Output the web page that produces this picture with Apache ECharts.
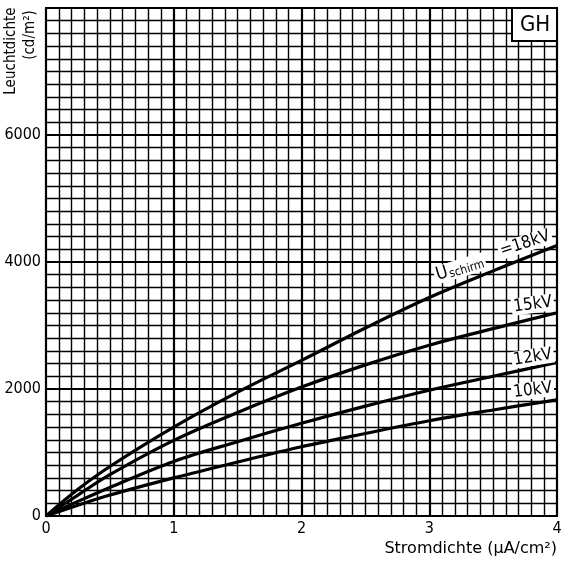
<!DOCTYPE html>
<html>
<head>
<meta charset="utf-8">
<title>Leuchtdichte GH</title>
<script src="https://cdn.jsdelivr.net/npm/echarts@6/dist/echarts.min.js"></script>
<style>
  html, body { margin: 0; padding: 0; background: #fff; }
  #chart { width: 565px; height: 561px; }
</style>
</head>
<body>
<div id="chart"></div>
<script>
// Stromdichte in µA/cm²
var stromdichte = [0, 0.25, 0.5, 1, 1.5, 2, 2.5, 3, 3.5, 4];
// Leuchtdichte in cd/m² je Schirmspannung
var kv18 = [0, 420, 780, 1400, 1950, 2450, 2960, 3440, 3860, 4260];
var kv15 = [0, 330, 650, 1190, 1630, 2030, 2380, 2690, 2950, 3200];
var kv12 = [0, 230, 450, 860, 1170, 1460, 1730, 1980, 2200, 2420];
var kv10 = [0, 170, 330, 600, 850, 1090, 1300, 1500, 1670, 1830];

var font = "'DejaVu Sans Condensed', 'DejaVu Sans', sans-serif";

function pairs(ys) {
  return stromdichte.map(function (x, i) { return [x, ys[i]]; });
}

function kurve(name, ys) {
  return {
    name: name,
    type: "line",
    data: pairs(ys),
    smooth: 0.35,
    showSymbol: false,
    silent: true,
    lineStyle: { color: "#000", width: 3.2 },
    z: 5
  };
}

var myChart = echarts.init(document.getElementById("chart"));

var option = {
  animation: false,
  backgroundColor: "#fff",
  grid: {
    left: 46, right: 8, top: 8, bottom: 45,
    show: true,
    borderColor: "#000",
    borderWidth: 2
  },
  xAxis: {
    type: "value",
    min: 0, max: 4, interval: 1,
    axisLine: { show: false },
    axisTick: { show: false },
    axisLabel: { color: "#000", fontSize: 16, fontFamily: font, margin: 5 },
    splitLine: { lineStyle: { color: "#000", width: 2.2 } },
    minorTick: { show: false, splitNumber: 10 },
    minorSplitLine: { show: true, lineStyle: { color: "#000", width: 1.4 } }
  },
  yAxis: {
    type: "value",
    min: 0, max: 8000, interval: 2000,
    axisLine: { show: false },
    axisTick: { show: false },
    axisLabel: {
      color: "#000", fontSize: 16, fontFamily: font, margin: 5,
      formatter: function (v) { return v === 8000 ? "" : String(v); }
    },
    splitLine: { lineStyle: { color: "#000", width: 2.2 } },
    minorTick: { show: false, splitNumber: 10 },
    minorSplitLine: { show: true, lineStyle: { color: "#000", width: 1.4 } }
  },
  series: [
    kurve("18kV", kv18),
    kurve("15kV", kv15),
    kurve("12kV", kv12),
    kurve("10kV", kv10)
  ]
};

myChart.setOption(option);

// Beschriftungen an den Kurven, Lage aus Datenkoordinaten
function px(x, y) { return myChart.convertToPixel({ gridIndex: 0 }, [x, y]); }
function deg(d) { return d * Math.PI / 180; }

function kurvenText(text, x, y, rot, rich) {
  var p = px(x, y);
  return {
    type: "text",
    x: p[0], y: p[1],
    rotation: deg(rot),
    z: 10,
    style: {
      text: text,
      rich: rich,
      font: "17px " + font,
      fill: "#000",
      align: "center",
      verticalAlign: "middle",
      backgroundColor: "#fff",
      padding: [0, 2, 0, 2]
    }
  };
}

var gp = myChart.getModel().getComponent("grid").coordinateSystem.getRect();

myChart.setOption({
  graphic: [
    kurvenText("{u|U}{s|schirm}", 3.24, 3900, 17, {
      u: { fontSize: 18, fontFamily: font, verticalAlign: "bottom" },
      s: { fontSize: 12, fontFamily: font, verticalAlign: "bottom", padding: [0, 0, 0, 1] }
    }),
    kurvenText("=18kV", 3.75, 4290, 18),
    kurvenText("15kV", 3.81, 3330, 8),
    kurvenText("12kV", 3.81, 2500, 9),
    kurvenText("10kV", 3.81, 1980, 7),
    // Kennzeichen oben rechts
    {
      type: "rect",
      z: 10,
      shape: { x: gp.x + gp.width - 45, y: gp.y, width: 45, height: 33 },
      style: { fill: "#fff", stroke: "#000", lineWidth: 2 }
    },
    {
      type: "text",
      z: 11,
      x: gp.x + gp.width - 22, y: gp.y + 17,
      style: { text: "GH", font: "22px " + font, fill: "#000", align: "center", verticalAlign: "middle" }
    },
    // Achsentitel
    {
      type: "text",
      x: 11, y: 51, rotation: deg(90),
      style: { text: "Leuchtdichte", font: "15px " + font, fill: "#000", align: "center", verticalAlign: "middle" }
    },
    {
      type: "text",
      x: 30, y: 35, rotation: deg(90),
      style: { text: "(cd/m²)", font: "15px " + font, fill: "#000", align: "center", verticalAlign: "middle" }
    },
    {
      type: "text",
      x: gp.x + gp.width, y: 549,
      style: { text: "Stromdichte (µA/cm²)", font: "16px 'DejaVu Sans', sans-serif", fill: "#000", align: "right", verticalAlign: "middle" }
    }
  ]
});
</script>
</body>
</html>
